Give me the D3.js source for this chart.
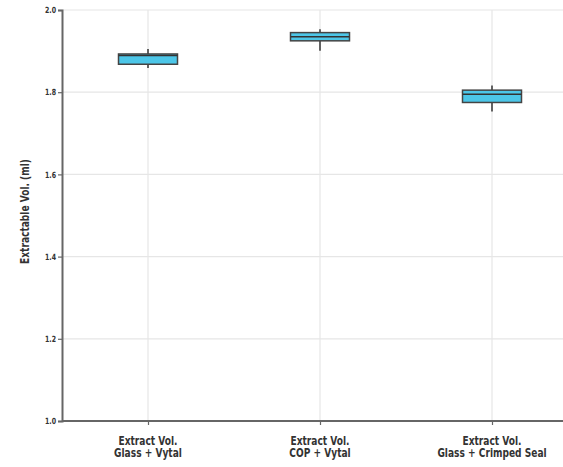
<!DOCTYPE html>
<html>
<head>
<meta charset="utf-8">
<script src="https://cdn.jsdelivr.net/npm/d3@7"></script>
<style>
  body { margin: 0; background: #fff; }
  svg text { font-family: "Liberation Sans Narrow", "DejaVu Sans Condensed", "Liberation Sans", sans-serif; font-weight: bold; fill: #333; }
</style>
</head>
<body>
<svg id="chart" width="563" height="467"></svg>
<script>
// data
var categories = ["Extract Vol.\nGlass + Vytal", "Extract Vol.\nCOP + Vytal", "Extract Vol.\nGlass + Crimped Seal"];
var whiskerLow  = [1.859, 1.901, 1.753];
var q1          = [1.868, 1.925, 1.775];
var median      = [1.889, 1.935, 1.795];
var q3          = [1.893, 1.945, 1.805];
var whiskerHigh = [1.905, 1.953, 1.816];
var yTicks = [1.0, 1.2, 1.4, 1.6, 1.8, 2.0];

var W = 563, H = 467,
    MARGINS = {top: 10, right: -15, bottom: 46, left: 62};

var svg = d3.select("#chart");

var xScale = d3.scalePoint()
    .domain(categories)
    .range([MARGINS.left, W - MARGINS.right])
    .padding(0.5);

var yScale = d3.scaleLinear()
    .domain([1.0, 2.0])
    .range([H - MARGINS.bottom, MARGINS.top]);

var boxW = 59;

// grid
svg.append("g").selectAll("line").data(yTicks).enter().append("line")
    .attr("x1", MARGINS.left).attr("x2", W)
    .attr("y1", function(d){ return yScale(d); })
    .attr("y2", function(d){ return yScale(d); })
    .attr("stroke", "#e6e6e6").attr("stroke-width", 1.2);

svg.append("g").selectAll("line").data(categories).enter().append("line")
    .attr("x1", function(d){ return xScale(d); })
    .attr("x2", function(d){ return xScale(d); })
    .attr("y1", MARGINS.top).attr("y2", H - MARGINS.bottom)
    .attr("stroke", "#e6e6e6").attr("stroke-width", 1.2);

// axes
var yAxis = d3.axisLeft(yScale).tickValues(yTicks).tickFormat(d3.format(".1f")).tickSize(4).tickPadding(2);
var gy = svg.append("g")
    .attr("transform", "translate(" + MARGINS.left + ",0)")
    .call(yAxis);
gy.select(".domain").attr("stroke", "#666").attr("stroke-width", 2);
gy.selectAll(".tick line").attr("stroke", "#666").attr("stroke-width", 1.2);
gy.selectAll(".tick text")
    .style("font-size", "8.5px").attr("fill", "#333")
    .attr("x", null)
    .attr("transform", "translate(-6,0) scale(0.82,1)");

var xAxis = d3.axisBottom(xScale).tickSize(4).tickFormat("");
var gx = svg.append("g")
    .attr("transform", "translate(0," + (H - MARGINS.bottom) + ")")
    .call(xAxis);
gx.select(".domain").attr("d", "M" + MARGINS.left + ",0H" + W).attr("stroke", "#666").attr("stroke-width", 2);
gx.selectAll(".tick line").attr("stroke", "#666").attr("stroke-width", 1.2);

// x labels (two lines), squeezed to look condensed
var labels = svg.append("g").selectAll("text").data(categories).enter().append("text")
    .attr("text-anchor", "middle")
    .attr("transform", function(d){ return "translate(" + xScale(d) + "," + (H - MARGINS.bottom + 23.5) + ") scale(0.84,1)"; })
    .style("font-size", "12px");
labels.each(function(d){
    var t = d3.select(this);
    d.split("\n").forEach(function(s, i){
        t.append("tspan").attr("x", 0).attr("dy", i === 0 ? 0 : 13).text(s);
    });
});

// y title
svg.append("text")
    .attr("text-anchor", "middle")
    .attr("transform", "translate(29," + ((MARGINS.top + H - MARGINS.bottom) / 2 - 4) + ") rotate(-90) scale(0.84,1)")
    .style("font-size", "12px")
    .text("Extractable Vol. (ml)");

// boxes
var boxes = svg.append("g").selectAll("g").data(categories).enter().append("g");

boxes.append("line")
    .attr("x1", function(d){ return xScale(d); })
    .attr("x2", function(d){ return xScale(d); })
    .attr("y1", function(d, i){ return yScale(whiskerHigh[i]); })
    .attr("y2", function(d, i){ return yScale(q3[i]); })
    .attr("stroke", "#333").attr("stroke-width", 1.5);

boxes.append("line")
    .attr("x1", function(d){ return xScale(d); })
    .attr("x2", function(d){ return xScale(d); })
    .attr("y1", function(d, i){ return yScale(q1[i]); })
    .attr("y2", function(d, i){ return yScale(whiskerLow[i]); })
    .attr("stroke", "#333").attr("stroke-width", 1.5);

boxes.append("rect")
    .attr("x", function(d){ return xScale(d) - boxW / 2; })
    .attr("width", boxW)
    .attr("y", function(d, i){ return yScale(q3[i]); })
    .attr("height", function(d, i){ return yScale(q1[i]) - yScale(q3[i]); })
    .attr("fill", "#4cc6e8")
    .attr("stroke", "#444").attr("stroke-width", 1.5);

boxes.append("line")
    .attr("x1", function(d){ return xScale(d) - boxW / 2; })
    .attr("x2", function(d){ return xScale(d) + boxW / 2; })
    .attr("y1", function(d, i){ return yScale(median[i]); })
    .attr("y2", function(d, i){ return yScale(median[i]); })
    .attr("stroke", "#333").attr("stroke-width", 1.5);
</script>
</body>
</html>
